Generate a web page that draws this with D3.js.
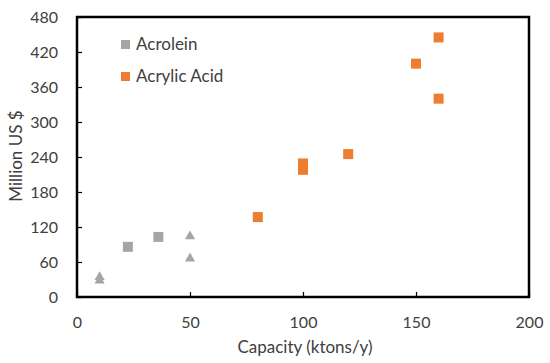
<!DOCTYPE html>
<html>
<head>
<meta charset="utf-8">
<script src="https://cdn.jsdelivr.net/npm/d3@7"></script>
<style>
  body { margin: 0; background: #fff; }
  svg text { font-family: Lato, "Open Sans", sans-serif; fill: #404040; }
</style>
</head>
<body>
<div id="chart"></div>
<script>
// Acrolein: squares and triangles (grey), Acrylic Acid: squares (orange)
const acroleinSquares = [[22.5, 86], [36, 103]];
const acroleinTriangles = [[10, 34], [10, 28], [50, 104], [50, 66]];
const acrylicAcid = [[80, 137], [100, 218], [100, 229], [120, 245], [150, 400], [160, 445], [160, 340]];
const xTicks = [0, 50, 100, 150, 200];
const yTicks = [0, 60, 120, 180, 240, 300, 360, 420, 480];
const legendItems = [
    {label: "Acrolein", color: "#A5A5A5"},
    {label: "Acrylic Acid", color: "#ED7D31"}
];

const W = 550, H = 363;
const margin = {top: 17, right: 21, bottom: 66, left: 77};
const width = W - margin.left - margin.right,
    height = H - margin.top - margin.bottom;

const svg = d3.select("#chart").append("svg")
    .attr("width", W).attr("height", H)
    .append("g")
    .attr("transform", `translate(${margin.left},${margin.top})`);

const x = d3.scaleLinear().domain([0, 200]).range([0, width]);
const y = d3.scaleLinear().domain([0, 480]).range([height, 0]);

// axes with inward ticks
const xAxis = svg.append("g")
    .attr("transform", `translate(0,${height})`)
    .call(d3.axisBottom(x).tickValues(xTicks).tickSize(-5).tickPadding(20).tickSizeOuter(0));
const yAxis = svg.append("g")
    .call(d3.axisLeft(y).tickValues(yTicks).tickSize(-5).tickPadding(19).tickSizeOuter(0));
[xAxis, yAxis].forEach(a => {
    a.select(".domain").remove();
    a.selectAll(".tick line").attr("stroke", "#000").attr("stroke-width", 1.2);
    a.selectAll(".tick text").attr("font-size", 16).style("font-family", "Lato, 'Open Sans', sans-serif");
});

// frame
svg.append("rect")
    .attr("width", width).attr("height", height)
    .attr("fill", "none").attr("stroke", "#000").attr("stroke-width", 2.5);

// axis titles
svg.append("text")
    .attr("x", width / 2 + 2).attr("y", height + 56)
    .attr("text-anchor", "middle").attr("font-size", 17)
    .text("Capacity (ktons/y)");
svg.append("text")
    .attr("transform", "rotate(-90)")
    .attr("x", -height / 2 + 1).attr("y", -55)
    .attr("text-anchor", "middle").attr("font-size", 17)
    .text("Million US $");

const sq = 10;
svg.append("g").selectAll("rect")
    .data(acroleinSquares).enter().append("rect")
    .attr("x", d => x(d[0]) - sq / 2).attr("y", d => y(d[1]) - sq / 2)
    .attr("width", sq).attr("height", sq).attr("fill", "#A5A5A5");

svg.append("g").selectAll("path")
    .data(acroleinTriangles).enter().append("path")
    .attr("d", d3.symbol().type(d3.symbolTriangle).size(45))
    .attr("transform", d => `translate(${x(d[0])},${y(d[1])})`)
    .attr("fill", "#A5A5A5");

svg.append("g").selectAll("rect")
    .data(acrylicAcid).enter().append("rect")
    .attr("x", d => x(d[0]) - sq / 2).attr("y", d => y(d[1]) - sq / 2)
    .attr("width", sq).attr("height", sq).attr("fill", "#ED7D31");

// legend
const legend = svg.append("g").selectAll("g")
    .data(legendItems).enter().append("g")
    .attr("transform", (d, i) => `translate(44,${27 + i * 32})`);
legend.append("rect")
    .attr("x", 0).attr("y", -4).attr("width", 9).attr("height", 9)
    .attr("fill", d => d.color);
legend.append("text")
    .attr("x", 15).attr("y", 0).attr("dy", "0.35em")
    .attr("font-size", 17)
    .text(d => d.label);
</script>
</body>
</html>
